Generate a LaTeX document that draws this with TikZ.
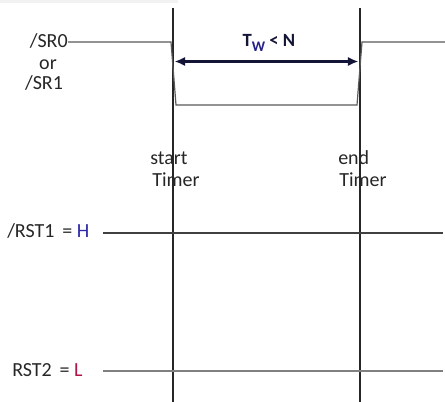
\documentclass[tikz,border=0pt]{standalone}
\usepackage{fontspec}
\setmainfont{Carlito}
\usetikzlibrary{positioning}
\usetikzlibrary{arrows.meta}

\definecolor{hblue}{RGB}{45,40,170}
\definecolor{lred}{RGB}{175,20,70}
\definecolor{navy}{RGB}{20,20,55}

\begin{document}
\begin{tikzpicture}[x=0.75pt, y=-0.75pt,
  lbl/.style={font=\fontsize{15}{18}\selectfont, text=black!85, inner sep=0pt},
  wave/.style={draw=black!65, line width=0.9pt},
  marker/.style={draw=black!85, line width=0.9pt},
  level/.style={draw=black!75, line width=0.9pt}]
  \useasboundingbox (0,0) rectangle (445,402);
  \fill [black!5] (0,0) rectangle (178,3);

  % time markers
  \coordinate (starttop) at (173,8);
  \coordinate (startbot) at (173,402);
  \coordinate (endtop) at (360,8);
  \coordinate (endbot) at (360,402);
  \draw [marker] (starttop) -- (startbot);
  \draw [marker] (endtop) -- (endbot);

  % /SR0 or /SR1 pulse
  \node [lbl, anchor=base east] (sr0) at (68,48) {/SR0};
  \node [lbl, anchor=base] (or) at (48,70) {or};
  \node [lbl, anchor=base] (sr1) at (44,90) {/SR1};
  \coordinate (fallhi) at (171,42);
  \coordinate (falllo) at (176,105);
  \coordinate (riselo) at (357,105);
  \coordinate (risehi) at (362,42);
  \coordinate (srend) at (445,42);
  \draw [wave] (sr0.east |- fallhi) -- (fallhi) -- (falllo) -- (riselo) -- (risehi) -- (srend);

  % pulse width
  \coordinate (tws) at (174.5,61.5);
  \coordinate (twe) at (358.5,61.5);
  \draw [navy, line width=1.6pt, {Latex[length=8pt,width=7pt]}-{Latex[length=8pt,width=7pt]}] (tws) -- (twe);
  \node [font=\bfseries\fontsize{14}{16}\selectfont, text=navy, inner sep=0pt, anchor=base] (tw) at (269,47)
    {T\textcolor{hblue!70!navy}{\raisebox{-0.5ex}{\fontsize{11}{12}\selectfont W}} < N};

  % timer labels
  \node [lbl, anchor=base west] (start) at (150,165) {start};
  \node [lbl, anchor=base west] (starttimer) at (152,187) {Timer};
  \node [lbl, anchor=base west] (end) at (338,165) {end};
  \node [lbl, anchor=base west] (endtimer) at (339,187) {Timer};

  % reset levels
  \node [lbl, anchor=base west] (rst1) at (7,238) {/RST1 \,= \textcolor{hblue}{H}};
  \node [lbl, anchor=base west] (rst2) at (12,376) {RST2 \,= \textcolor{lred}{L}};
  \coordinate (rst1s) at (103,233);
  \coordinate (rst1e) at (443,233);
  \coordinate (rst2s) at (103,371);
  \coordinate (rst2e) at (443,371);
  \draw [level] (rst1s) -- (rst1e);
  \draw [level, draw=black!50] (rst2s) -- (rst2e);
\end{tikzpicture}
\end{document}
